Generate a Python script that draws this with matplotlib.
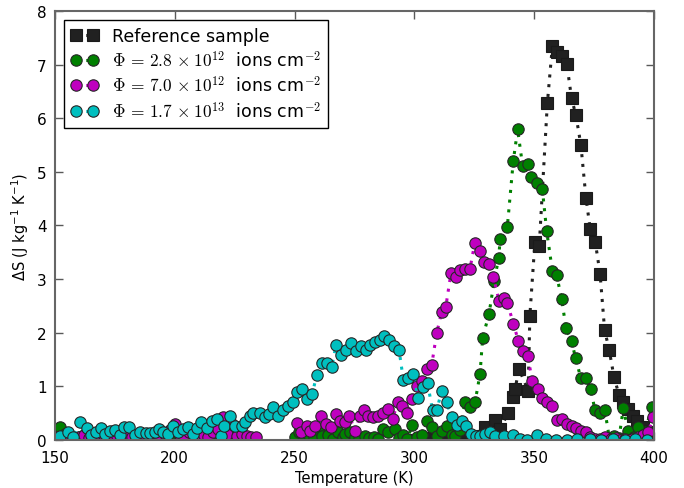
import matplotlib
matplotlib.use('Agg')
import matplotlib.pyplot as plt

plt.rcParams['mathtext.fontset'] = 'cm'
plt.rcParams['font.family'] = ['DejaVu Sans']

nan = float('nan')

# reference sample
t_ref = [300, 305, 310, 314, 318, 321.1, 324.6, 329.5, 333.6, 335.7, 339.2, 341.3, 342.0,
         343.7, 347.5, 348.2, 350.3, 352.1, 355.5, 357.6, 359.4, 361.5, 363.6, 365.6, 367.4,
         369.5, 371.6, 373.4, 375.5, 377.5, 379.4, 381.3, 383.3, 385.4, 387.2, 389.3, 391.4,
         393.0, 395.3, 397.2, 399.3]
s_ref = [0.00, 0.03, 0.06, 0.04, 0.10, 0.14, 0.08, 0.24, 0.37, 0.20, 0.51, 0.81, 0.95,
         1.32, 0.92, 2.32, 3.69, 3.61, 6.28, 7.35, 7.24, 7.16, 7.02, 6.37, 6.06,
         5.50, 4.52, 3.93, 3.69, 3.10, 2.05, 1.68, 1.18, 0.84, 0.70, 0.58, 0.45,
         0.36, 0.24, 0.15, 0.08]

# 2.8e12 (no data between ~233 and 250 K)
t_g = [152, 154, 156, 158, 160, 162, 164, 166, 168, 170, 172, 174, 176, 178, 180, 182,
       184, 186, 188, 190, 192, 194, 196, 198, 200, 202, 204, 206, 208, 210, 212, 214,
       216, 218, 220, 222, 224, 226, 228, 230, 232, 241,
       250.2, 252, 254, 255.7, 258, 260, 261.3, 264.1, 266, 268.2, 270, 271, 273.1, 275.2,
       277, 279.4, 281, 283, 285, 287, 289.1, 291.9, 293.5, 295.4, 297, 299.2, 301, 303,
       305.1, 307.2, 309.3, 311.4, 313.5, 315.5, 317, 319, 321.1, 323.2, 325.3, 327.4,
       328.5, 331.1, 333.3, 335.2, 335.8, 338.8, 341.3, 343.1, 345.2, 347.3, 348.5, 351.3,
       353.4, 355.2, 357.6, 359.4, 361.5, 363.3, 365.6, 367.3, 369.5, 371.5, 373.6, 375.4,
       377.5, 379.5, 381.4, 383.5, 385.4, 387.2, 389.3, 391.5, 393.5, 396, 399.0]
s_g = [0.25, 0.12, 0.04, 0.02, 0.05, 0.10, 0.06, 0.03, 0.08, 0.04, 0.02, 0.06, 0.10, 0.03,
       0.05, 0.02, 0.07, 0.04, 0.02, 0.05, 0.03, 0.08, 0.02, 0.04, 0.06, 0.02, 0.03, 0.05,
       0.02, 0.07, 0.04, 0.02, 0.03, 0.06, 0.02, 0.04, 0.03, 0.02, 0.05, 0.02, 0.03, nan,
       0.05, 0.15, 0.02, 0.11, 0.03, 0.18, 0.07, 0.09, 0.02, 0.14, 0.05, 0.12, 0.15, 0.05,
       0.02, 0.08, 0.03, 0.05, 0.02, 0.20, 0.14, 0.20, 0.03, 0.09, 0.02, 0.28, 0.05, 0.10,
       0.36, 0.24, 0.08, 0.17, 0.27, 0.10, 0.08, 0.18, 0.70, 0.61, 0.70, 1.23,
       1.91, 2.34, 2.96, 3.40, 3.75, 3.98, 5.21, 5.79, 5.10, 5.15, 4.91, 4.80,
       4.68, 3.90, 3.15, 3.07, 2.62, 2.08, 1.85, 1.52, 1.15, 1.15, 0.95, 0.55,
       0.51, 0.55, 0.03, 0.08, 0.03, 0.59, 0.16, 0.05, 0.24, 0.10, 0.61]

# 7.0e12 (no data between ~235 and 250 K)
t_m = [152, 154, 156, 158, 160, 162, 164, 166, 168, 170, 172, 174, 176, 178, 180, 182,
       184, 186, 188, 190, 192, 194, 196, 198, 200, 202, 204, 206, 208, 210, 212, 214,
       216, 218, 220, 222, 224, 226, 228, 230, 232, 234, 242,
       251.1, 252.5, 255, 256.5, 258.5, 261, 263, 265.1, 267.2, 269, 271, 272.8, 275.2,
       277.3, 279.1, 280.8, 282.8, 284.9, 287.0, 289.1, 291, 293.0, 294.7, 297.0, 298.9,
       301.2, 303.0, 305.4, 307.2, 309.3, 311.4, 313.1, 315.3, 317.2, 319.2, 321.2, 323.2,
       325.2, 327.3, 329.2, 331.2, 333.0, 335.3, 337.4, 338.8, 341.3, 343.4, 345.2, 347.3,
       349.2, 351.4, 353.4, 355.5, 357.6, 359.4, 361.5, 363.6, 365.6, 367.5, 369.5, 371.6,
       373.5, 375.5, 377.5, 379.5, 382, 384, 386, 388, 390.7, 393.5, 395.5, 397.5, 399.7]
s_m = [0.05, 0.02, 0.08, 0.03, 0.06, 0.10, 0.04, 0.02, 0.07, 0.12, 0.05, 0.03, 0.08, 0.04,
       0.10, 0.06, 0.03, 0.09, 0.05, 0.02, 0.07, 0.04, 0.12, 0.18, 0.30, 0.10, 0.05, 0.14,
       0.08, 0.04, 0.10, 0.06, 0.14, 0.20, 0.42, 0.11, 0.30, 0.08, 0.12, 0.08, 0.05, 0.05, nan,
       0.32, 0.15, 0.27, 0.17, 0.27, 0.44, 0.30, 0.24, 0.48, 0.35, 0.33, 0.45, 0.17,
       0.44, 0.55, 0.45, 0.42, 0.45, 0.51, 0.58, 0.40, 0.70, 0.64, 0.51, 0.76,
       1.00, 1.10, 1.32, 1.39, 1.99, 2.39, 2.48, 3.12, 3.04, 3.17, 3.18, 3.19,
       3.67, 3.53, 3.32, 3.28, 3.04, 2.60, 2.65, 2.56, 2.17, 1.85, 1.66, 1.57,
       1.10, 0.95, 0.79, 0.71, 0.63, 0.38, 0.40, 0.30, 0.27, 0.22, 0.17, 0.14,
       0.05, 0.02, 0.02, 0.05, 0.01, 0.03, 0.00, 0.02, 0.02, 0.05, 0.10, 0.14, 0.42]

# 1.7e13
t_c = [152, 155.3, 157.5, 160.4, 163.2, 165, 167.1, 169.1, 171, 173, 175, 177.1, 178.9, 181,
       183.4, 185.5, 187.9, 189.6, 191.7, 193.4, 195.2, 197.3, 199.4, 201.5, 203.5, 205.4,
       207.5, 209.1, 210.8, 213.3, 215.4, 217.5, 219.3, 220.7, 223.0, 225.1, 227.9, 229.3,
       231.4, 232.8, 235.6, 237.6, 239.3, 241.1, 243.2, 245.3, 247.4, 249.5, 251.1, 253.2,
       255.3, 257.4, 259.2, 261.3, 263.4, 265.5, 267.3, 269.4, 271.5, 273.5, 275.5, 277.6,
       279.7, 281.5, 283.6, 285.6, 287.4, 289.4, 291.5, 293.6, 295.4, 297.5, 299.5, 301.6,
       303.7, 305.5, 307.6, 309.3, 311.4, 313.5, 315.6, 317.7, 319.7, 321.4, 323.5, 325.7,
       327.4, 329.5, 331.6, 333.6, 337.4, 341.3, 344, 347, 351.3, 355, 359, 363.6, 368,
       373.3, 378, 383, 388, 392, 397]
s_c = [0.08, 0.14, 0.05, 0.34, 0.22, 0.10, 0.14, 0.22, 0.12, 0.17, 0.19, 0.09, 0.24, 0.25,
       0.10, 0.14, 0.13, 0.13, 0.15, 0.20, 0.14, 0.11, 0.27, 0.14, 0.20, 0.25,
       0.11, 0.22, 0.34, 0.22, 0.36, 0.40, 0.07, 0.27, 0.45, 0.27, 0.27, 0.34,
       0.45, 0.51, 0.51, 0.42, 0.48, 0.61, 0.44, 0.55, 0.64, 0.70, 0.89, 0.96,
       0.76, 0.86, 1.21, 1.43, 1.43, 1.37, 1.77, 1.59, 1.68, 1.80, 1.65, 1.75,
       1.68, 1.77, 1.82, 1.86, 1.93, 1.86, 1.75, 1.68, 1.12, 1.16, 1.23, 0.78,
       0.98, 1.06, 0.55, 0.55, 0.92, 0.70, 0.42, 0.28, 0.36, 0.27, 0.11, 0.07,
       0.08, 0.11, 0.14, 0.07, 0.07, 0.09, 0.02, 0.00, 0.09, 0.01, 0.00, 0.00, 0.01,
       0.02, 0.00, 0.01, 0.00, 0.01, 0.00]

labels = ['Reference sample',
          r'$\Phi\,=\,2.8\,\times10^{12}$  ions cm$^{-2}$',
          r'$\Phi\,=\,7.0\,\times10^{12}$  ions cm$^{-2}$',
          r'$\Phi\,=\,1.7\,\times10^{13}$  ions cm$^{-2}$']

fig = plt.figure(figsize=(6.84, 4.89), dpi=100)
ax = fig.add_axes([0.0804, 0.0982, 0.8757, 0.8773])

dots = (0, (1, 2.2))
ax.plot(t_ref, s_ref, linestyle=dots, color='0.13', lw=2.2, marker='s', ms=8,
        mec='0.1', mew=0.8, label=labels[0])
ax.plot(t_g, s_g, linestyle=dots, color='g', lw=2.2, marker='o', ms=8.2,
        mec='0.15', mew=0.8, label=labels[1])
ax.plot(t_m, s_m, linestyle=dots, color='m', lw=2.2, marker='o', ms=8.2,
        mec='0.15', mew=0.8, label=labels[2])
ax.plot(t_c, s_c, linestyle=dots, color='c', lw=2.2, marker='o', ms=8.2,
        mec='0.15', mew=0.8, label=labels[3])

ax.set_xlim(150, 400)
ax.set_ylim(0, 8)
ax.set_xticks([150, 200, 250, 300, 350, 400])
ax.set_xlabel('Temperature (K)', fontsize=10.5)
ax.set_ylabel(r'$\mathregular{\Delta}$S (J kg$\mathregular{^{-1}}$ K$\mathregular{^{-1}}$)',
              fontsize=10.5)
ax.tick_params(direction='in', top=True, right=True, length=6, width=1,
               colors='0.35', labelcolor='black', labelsize=11)
ax.tick_params(axis='x', pad=7)
ax.tick_params(axis='y', pad=6)
for sp in ax.spines.values():
    sp.set_color('0.4')
    sp.set_linewidth(1.5)

leg = ax.legend(loc='upper left', numpoints=2, fontsize=12.5, fancybox=False,
                handlelength=1.6, borderaxespad=0.5, labelspacing=0.3,
                handletextpad=0.8, framealpha=1)
leg.get_frame().set_edgecolor('black')
leg.get_frame().set_linewidth(1)

fig.savefig('out.png', dpi=100)
